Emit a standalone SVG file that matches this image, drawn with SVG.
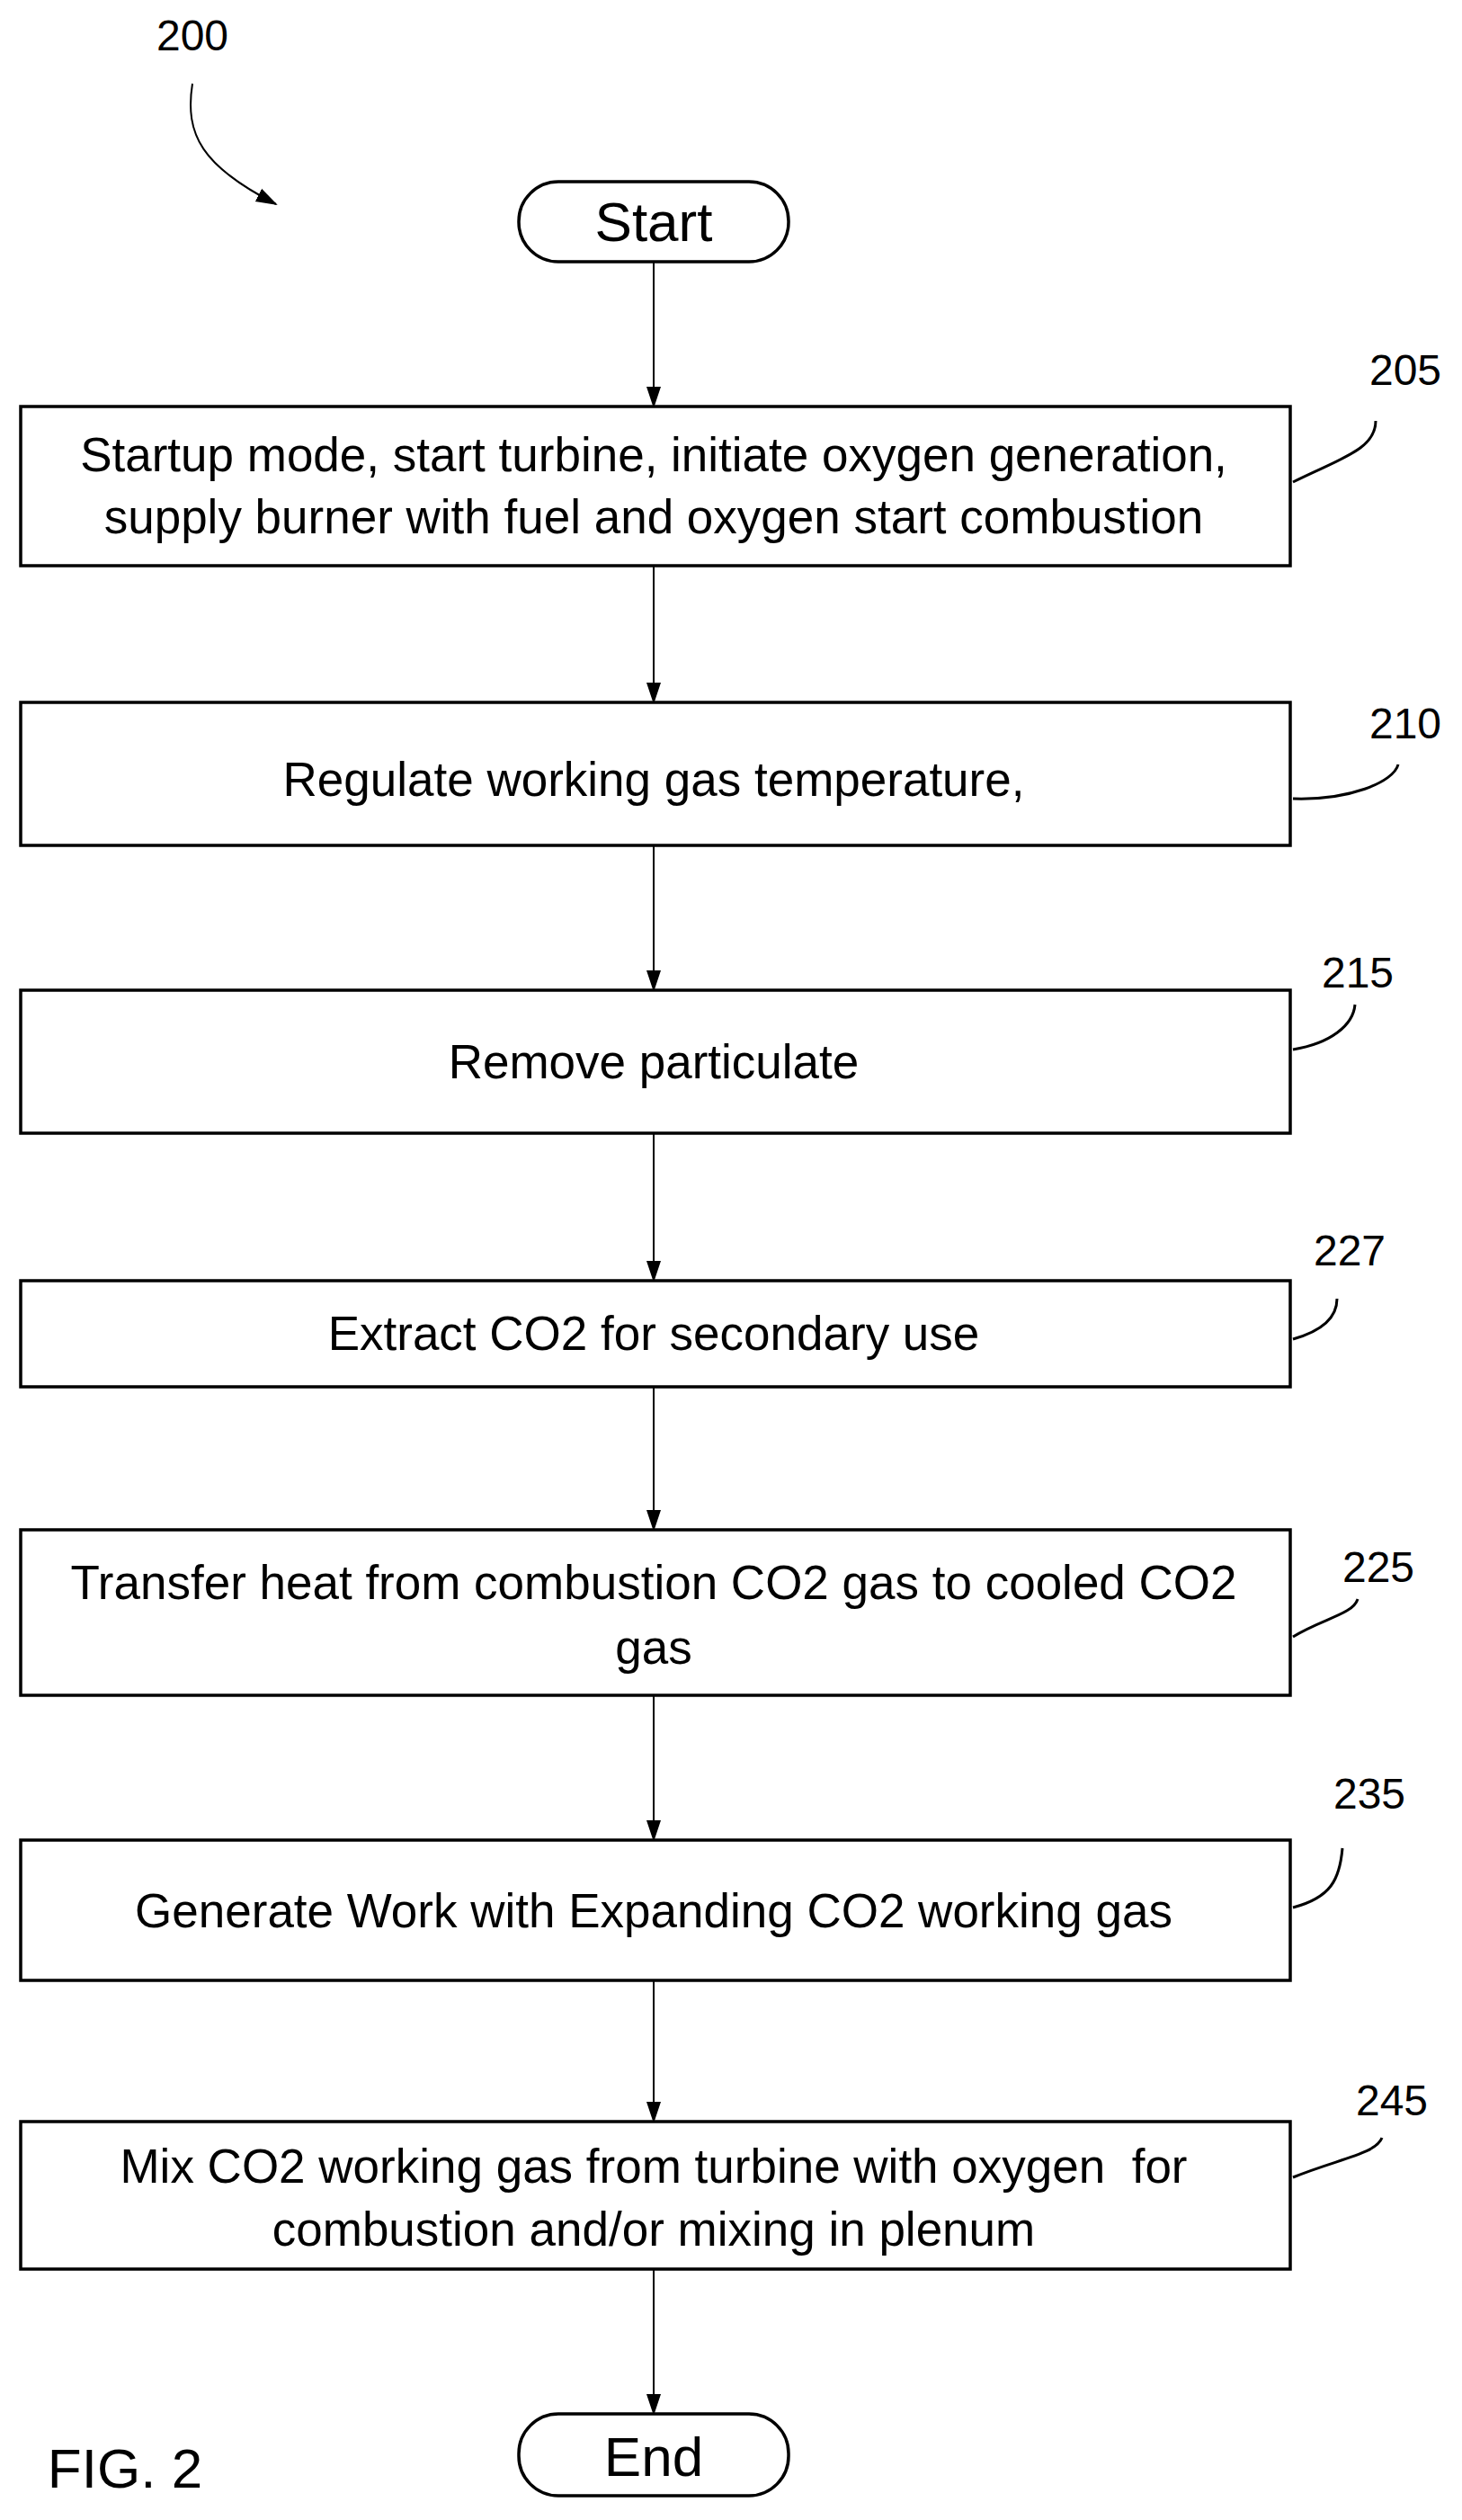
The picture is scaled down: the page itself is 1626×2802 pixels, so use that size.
<svg xmlns="http://www.w3.org/2000/svg" width="1626" height="2802" viewBox="0 0 1626 2802">
<style>
.b{fill:#fff;stroke:#000;stroke-width:3.5}
.t{font-family:"Liberation Sans",Arial,sans-serif;font-size:53px;text-anchor:middle;fill:#000}
.n{font-family:"Liberation Sans",Arial,sans-serif;font-size:48px;text-anchor:middle;fill:#000}
.c{fill:none;stroke:#000;stroke-width:2}
.l{fill:none;stroke:#000;stroke-width:3}
</style>
<defs><marker id="a2" markerWidth="24" markerHeight="20" refX="22" refY="10" orient="auto" markerUnits="userSpaceOnUse"><path d="M0,2 L24,10 L0,18 z" fill="#000"/></marker></defs>
<g id="connectors">
<line class="c" x1="727" y1="291" x2="727" y2="452" marker-end="url(#a2)"/>
<line class="c" x1="727" y1="629" x2="727" y2="781" marker-end="url(#a2)"/>
<line class="c" x1="727" y1="940" x2="727" y2="1101" marker-end="url(#a2)"/>
<line class="c" x1="727" y1="1260" x2="727" y2="1424" marker-end="url(#a2)"/>
<line class="c" x1="727" y1="1542" x2="727" y2="1701" marker-end="url(#a2)"/>
<line class="c" x1="727" y1="1885" x2="727" y2="2046" marker-end="url(#a2)"/>
<line class="c" x1="727" y1="2202" x2="727" y2="2359" marker-end="url(#a2)"/>
<line class="c" x1="727" y1="2523" x2="727" y2="2684" marker-end="url(#a2)"/>
<path class="c" d="M214,93 C205,150 225,185 307,227" marker-end="url(#a2)"/>
<path class="l" d="M1438,536 C1490,510 1530,500 1530,468"/>
<path class="l" d="M1438,888 C1500,890 1550,870 1555,850"/>
<path class="l" d="M1438,1167 C1480,1160 1505,1140 1507,1117"/>
<path class="l" d="M1438,1489 C1470,1480 1487,1465 1487,1444"/>
<path class="l" d="M1438,1820 C1470,1800 1505,1795 1510,1778"/>
<path class="l" d="M1438,2121 C1480,2110 1490,2090 1493,2055"/>
<path class="l" d="M1438,2421 C1490,2400 1530,2395 1537,2377"/>
</g>
<text class="n" x="214" y="56">200</text>
<g id="start"><rect class="b" x="577" y="202" width="300" height="89" rx="44"/><text class="t" x="727" y="268" style="font-size:62px">Start</text></g>
<g id="n205"><rect class="b" x="23" y="452" width="1412" height="177"/><text class="t" x="727" y="524">Startup mode, start turbine, initiate oxygen generation,</text><text class="t" x="727" y="593">supply burner with fuel and oxygen start combustion</text><text class="n" x="1563" y="428">205</text></g>
<g id="n210"><rect class="b" x="23" y="781" width="1412" height="159"/><text class="t" x="727" y="885">Regulate working gas temperature,</text><text class="n" x="1563" y="821">210</text></g>
<g id="n215"><rect class="b" x="23" y="1101" width="1412" height="159"/><text class="t" x="727" y="1199">Remove particulate</text><text class="n" x="1510" y="1098">215</text></g>
<g id="n227"><rect class="b" x="23" y="1424" width="1412" height="118"/><text class="t" x="727" y="1501">Extract CO2 for secondary use</text><text class="n" x="1501" y="1407">227</text></g>
<g id="n225"><rect class="b" x="23" y="1701" width="1412" height="184"/><text class="t" x="727" y="1778">Transfer heat from combustion CO2 gas to cooled CO2</text><text class="t" x="727" y="1850">gas</text><text class="n" x="1533" y="1759">225</text></g>
<g id="n235"><rect class="b" x="23" y="2046" width="1412" height="156"/><text class="t" x="727" y="2143">Generate Work with Expanding CO2 working gas</text><text class="n" x="1523" y="2011">235</text></g>
<g id="n245"><rect class="b" x="23" y="2359" width="1412" height="164"/><text class="t" x="727" y="2427" xml:space="preserve">Mix CO2 working gas from turbine with oxygen  for</text><text class="t" x="727" y="2497">combustion and/or mixing in plenum</text><text class="n" x="1548" y="2352">245</text></g>
<g id="end"><rect class="b" x="577" y="2684" width="300" height="91" rx="44"/><text class="t" x="727" y="2753" style="font-size:62px">End</text></g>
<text class="t" x="139" y="2766" style="font-size:62px">FIG. 2</text>
</svg>
